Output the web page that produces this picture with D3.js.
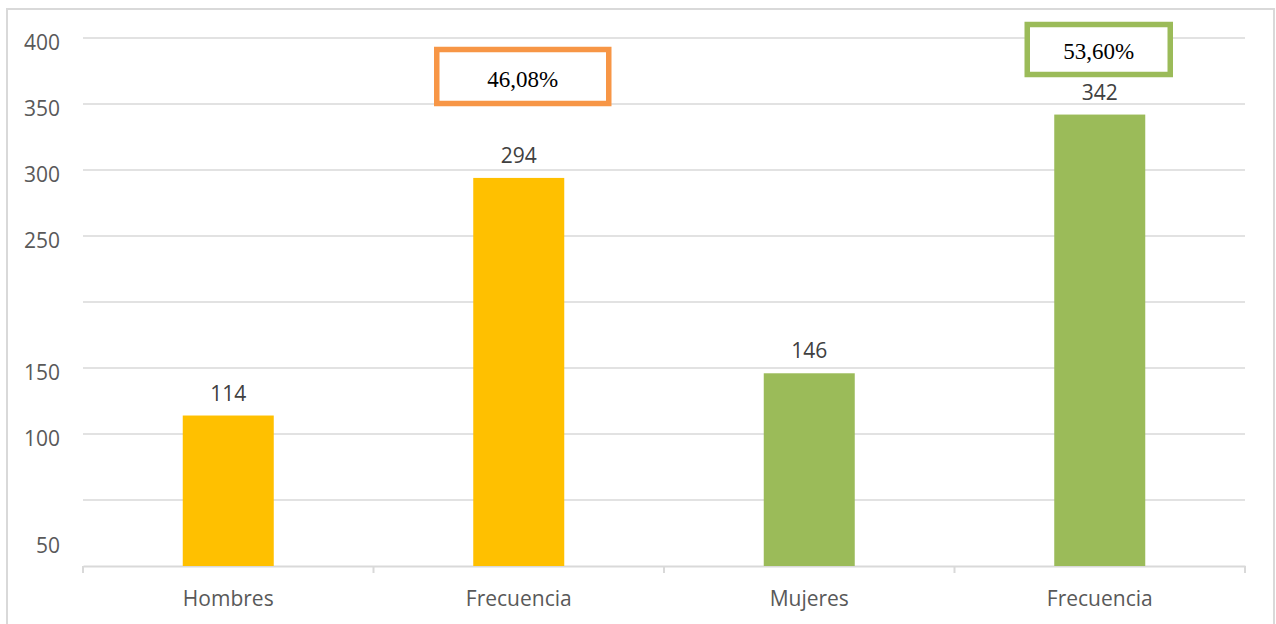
<!DOCTYPE html>
<html><head><meta charset="utf-8">
<script src="https://cdn.jsdelivr.net/npm/d3@7"></script>
<style>body{margin:0;background:#fff}svg{display:block}
.pct{font-family:"Liberation Serif","Times New Roman",Times,"DejaVu Serif",serif;}</style>
</head><body>
<svg id="c" width="1276" height="624"></svg>
<script>
const categories = ["Hombres", "Frecuencia", "Mujeres", "Frecuencia"];
const values = [114, 294, 146, 342];
const barColors = ["#ffc000", "#ffc000", "#9bbb59", "#9bbb59"];
const gridValues = [0, 50, 100, 150, 200, 250, 300, 350, 400];
const tickValues = [400, 350, 300, 250, 150, 100, 50];
const tickLabels = ["400", "350", "300", "250", "150", "100", "50"];
const percentLabels = ["46,08%", "53,60%"];
const percentColors = ["#f79646", "#9bbb59"];

const FONT = "Open Sans, sans-serif";
const svg = d3.select("#c");
// outer border
svg.append("rect").attr("x", 7).attr("y", 9).attr("width", 1267).attr("height", 630)
  .attr("fill", "none").attr("stroke", "#d9d9d9").attr("stroke-width", 2);

const x = d3.scaleBand().domain(d3.range(categories.length)).range([83, 1245]).padding(0);
const y = d3.scaleLinear().domain([0, 400]).range([566, 38]);

// gridlines
svg.append("g").selectAll("line").data(gridValues.filter(v => v > 0)).join("line")
  .attr("x1", 83).attr("x2", 1245).attr("y1", d => y(d)).attr("y2", d => y(d))
  .attr("stroke", "#d9d9d9").attr("stroke-width", 1.6);

// y labels
const yAxis = d3.axisLeft(y).tickValues(tickValues).tickSize(0).tickPadding(0)
  .tickFormat((d, i) => tickLabels[i]);
const gy = svg.append("g").attr("transform", "translate(60,0)").call(yAxis);
gy.select(".domain").remove();
gy.selectAll("text").attr("font-family", FONT).attr("font-size", 21)
  .attr("fill", "#595959").attr("text-anchor", "end")
  .attr("dy", (d) => d === 50 ? 52 : 11);

// x axis
const xAxis = d3.axisBottom(x).tickSize(0).tickFormat((d) => categories[d]);
const gx = svg.append("g").attr("transform", "translate(0,566)").call(xAxis);
gx.select(".domain").attr("stroke", "#d9d9d9").attr("stroke-width", 2);
gx.selectAll("text").attr("font-family", FONT).attr("font-size", 21)
  .attr("fill", "#595959").attr("y", 0).attr("dy", 40);
// tick marks at band boundaries
const bounds = d3.range(categories.length).map(i => x(i)).concat([x.range()[1]]);
svg.append("g").selectAll("line").data(bounds).join("line")
  .attr("x1", d => d).attr("x2", d => d).attr("y1", 566).attr("y2", 573)
  .attr("stroke", "#d9d9d9").attr("stroke-width", 2);

// bars
const bw = 91;
svg.append("g").selectAll("rect").data(values).join("rect")
  .attr("x", (d, i) => x(i) + x.bandwidth() / 2 - bw / 2)
  .attr("width", bw)
  .attr("y", d => y(d))
  .attr("height", d => y(0) - y(d))
  .attr("fill", (d, i) => barColors[i]);

// data labels
svg.append("g").selectAll("text").data(values).join("text")
  .attr("x", (d, i) => x(i) + x.bandwidth() / 2)
  .attr("y", d => y(d) - 15)
  .attr("text-anchor", "middle")
  .attr("font-family", FONT).attr("font-size", 21)
  .attr("fill", "#404040").text(d => d);

// percentage boxes
const boxes = [
  {idx: 1, cx: x(1) + x.bandwidth() / 2 + 4, cy: 76.5, w: 172, h: 54, base: 87},
  {idx: 3, cx: x(3) + x.bandwidth() / 2 - 1, cy: 49.5, w: 143, h: 50, base: 59}
];
boxes.forEach((b, k) => {
  svg.append("rect").attr("x", b.cx - b.w / 2).attr("y", b.cy - b.h / 2)
    .attr("width", b.w).attr("height", b.h).attr("fill", "#fff")
    .attr("stroke", percentColors[k]).attr("stroke-width", 5.5);
  svg.append("text").attr("class", "pct").attr("x", b.cx).attr("y", b.base)
    .attr("text-anchor", "middle")
    .attr("font-size", 23).attr("fill", "#000").text(percentLabels[k]);
});
</script>
</body></html>
